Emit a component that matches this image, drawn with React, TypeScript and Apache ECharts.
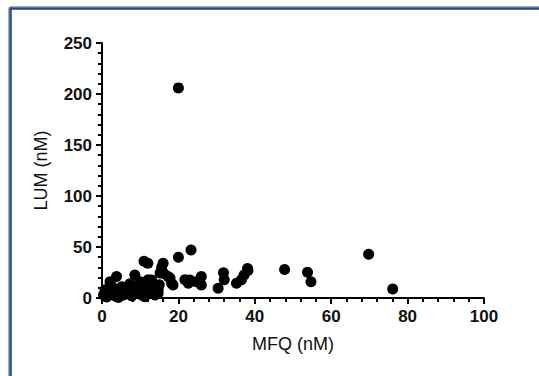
import React, { useEffect, useRef } from "react";
import * as echarts from "echarts";

const xTickValues = [0, 20, 40, 60, 80, 100];
const yTickValues = [0, 50, 100, 150, 200, 250];
const xName = "MFQ (nM)";
const yName = "LUM (nM)";

// [MFQ, LUM] pairs
const points: [number, number][] = [
  [0.4, 3], [0.8, 8], [1.2, 1], [1.7, 5], [2.1, 16], [2.5, 12], [3, 9], [3.4, 2],
  [3.8, 21], [4.3, 0.5], [4.6, 6], [5.2, 11], [5.6, 3], [6.2, 8], [6.9, 9.5], [7.3, 14],
  [7.8, 2], [8.3, 11], [8.6, 22.5], [9.1, 6], [9.5, 12.7], [10, 16], [10.4, 3], [10.9, 9],
  [11.2, 1.3], [11.6, 14], [12.1, 18], [12.6, 6], [13, 17.6], [13.4, 11], [13.9, 3], [14.7, 4.6],
  [14.7, 8], [15.2, 24.5], [15, 13],
  [11, 36], [12, 34], [15.6, 30], [16, 34], [16.2, 24], [17.3, 21], [17.8, 19.6], [18.2, 14.4],
  [18.6, 12.7], [20, 40], [20, 206], [21.7, 18], [22.6, 14.4], [23.3, 47], [23, 17.6],
  [24.7, 16], [26, 21], [26, 12.7], [30.4, 9.5], [32, 18], [31.8, 24.8], [35.2, 14.4],
  [36.5, 18], [37.2, 22.5], [38.1, 29], [38.2, 27], [47.8, 28], [53.8, 25.2], [54.7, 16],
  [69.8, 43], [76.1, 8.8],
];

export default function App() {
  const ref = useRef<HTMLDivElement>(null);
  useEffect(() => {
    if (!ref.current) return;
    const chart = echarts.init(ref.current, null, { renderer: "svg" });
    const font = "'Liberation Sans', Arial, sans-serif";
    chart.setOption({
      animation: false,
      backgroundColor: "#ffffff",
      grid: { left: 102, right: 55, top: 43, bottom: 78, containLabel: false },
      xAxis: {
        type: "value",
        min: xTickValues[0],
        max: xTickValues[xTickValues.length - 1],
        interval: 20,
        name: xName,
        nameLocation: "middle",
        nameGap: 37,
        nameTextStyle: { color: "#111", fontSize: 18, fontFamily: font },
        axisLine: { show: true, lineStyle: { color: "#000", width: 2 } },
        axisTick: { show: true, length: 6, lineStyle: { color: "#000", width: 2 } },
        minorTick: { show: true, splitNumber: 5, length: 4, lineStyle: { color: "#000", width: 2 } },
        splitLine: { show: false },
        axisLabel: { color: "#111", fontSize: 17, fontWeight: "bold", fontFamily: font, margin: 10 },
      },
      yAxis: {
        type: "value",
        min: yTickValues[0],
        max: yTickValues[yTickValues.length - 1],
        interval: 50,
        name: yName,
        nameLocation: "middle",
        nameGap: 52,
        nameTextStyle: { color: "#111", fontSize: 18, fontFamily: font },
        axisLine: { show: true, lineStyle: { color: "#000", width: 2 } },
        axisTick: { show: true, length: 6, lineStyle: { color: "#000", width: 2 } },
        minorTick: { show: true, splitNumber: 5, length: 4, lineStyle: { color: "#000", width: 2 } },
        splitLine: { show: false },
        axisLabel: { color: "#111", fontSize: 17, fontWeight: "bold", fontFamily: font, margin: 10 },
      },
      graphic: [
        { type: "line", shape: { x1: 10, y1: 6.5, x2: 539, y2: 6.5 }, style: { stroke: "#9aaccf", lineWidth: 1 } },
        { type: "line", shape: { x1: 10, y1: 8.5, x2: 539, y2: 8.5 }, style: { stroke: "#27477f", lineWidth: 2.5 } },
        { type: "line", shape: { x1: 8.5, y1: 7, x2: 8.5, y2: 376 }, style: { stroke: "#9aaccf", lineWidth: 1 } },
        { type: "line", shape: { x1: 10.5, y1: 7.5, x2: 10.5, y2: 376 }, style: { stroke: "#27477f", lineWidth: 2.5 } },
      ],
      series: [
        {
          type: "scatter",
          data: points,
          symbol: "circle",
          symbolSize: 11,
          itemStyle: { color: "#000", opacity: 1 },
          clip: false,
        },
      ],
    });
    return () => chart.dispose();
  }, []);
  return (
    <div
      ref={ref}
      style={{ position: "absolute", left: 0, top: 0, width: 539, height: 376 }}
    />
  );
}
